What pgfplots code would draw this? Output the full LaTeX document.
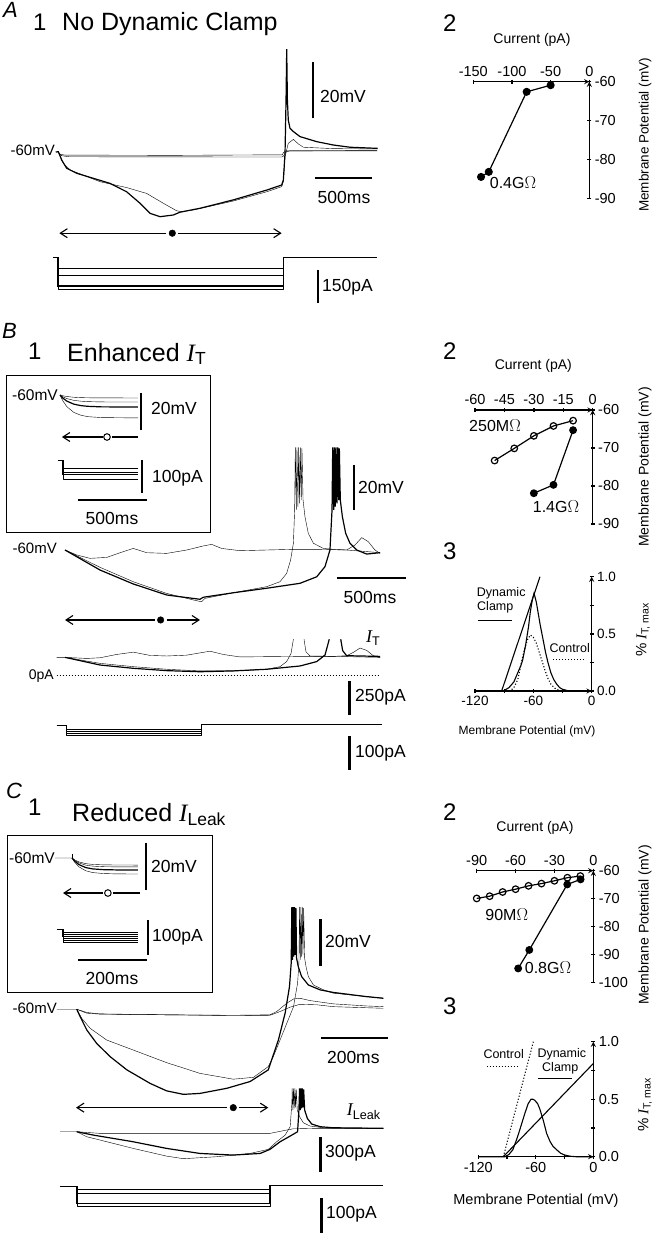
\documentclass[border=0pt]{standalone}
\usepackage{pgfplots}
\pgfplotsset{compat=1.18}
\usepackage{fontspec}
\setmainfont{Liberation Sans}
\newfontfamily\serif{Liberation Serif}
\usetikzlibrary{arrows.meta}
\newcommand{\fs}[1]{\fontsize{#1}{#1}\selectfont}
\newcommand{\tl}{\fontsize{14.5}{14.5}\selectfont}
\newcommand{\tm}{\fontsize{13.5}{13.5}\selectfont}
\newcommand{\IT}{{\serif\itshape I}}
\pgfplotsset{
 trace/.style={hide axis, scale only axis, clip=false, anchor=south west,
   cycle list={{black, mark=none, line width=1.2pt, line join=round}}},
 iv/.style={scale only axis, anchor=south west, clip=false,
   axis line style={-, line width=1.3pt},
   x axis line style={-}, y axis line style={-},
   tick style={line width=1.3pt, black}, major tick length=4pt, minor tick length=4pt,
   tick align=outside,
   cycle list={{black, line width=1.2pt}}},
}
\tikzset{lbl/.style={inner sep=0pt}, barb/.style={line width=1.1pt, -{Straight Barb[length=7pt,width=9pt]}}}
\begin{document}
\begin{tikzpicture}
\useasboundingbox (0pt,0pt) rectangle (667pt,-1239pt);

% ================= A1 voltage
\begin{axis}[trace, at={(35.5pt,-236pt)}, width=348.75pt, height=196pt, xmin=-200, xmax=2900, ymin=-90, ymax=-20]
\addplot coordinates {(-20,-60)(0,-60)(20,-60.8)(60,-61.1)(1000,-61.2)(1995,-61.0)(2003,-60.2)(2030,-59.6)(2836,-59.5)};
\addplot coordinates {(0,-60)(30,-61.3)(100,-61.7)(1990,-61.8)(2003,-61.5)(2025,-60)(2060,-59.6)(2836,-59.6)};
\addplot coordinates {(-20,-60)(3,-59.9)(33,-62.9)(77,-65.8)(166,-67.6)(314,-69.4)(462,-71.2)(610,-74.2)(729,-78.3)(818,-81.9)(907,-83.1)(1025,-82.5)(1084,-81.5)(1262,-80.1)(1559,-77.1)(1855,-73.6)(1988,-71.8)(2003,-70)(2018,-60.5)(2027,-41.4)(2033,-23.3)(2039,-41.4)(2047,-48.6)(2062,-51.5)(2092,-52.7)(2151,-54.5)(2299,-56.3)(2447,-57.5)(2596,-58.3)(2841,-58.7)};
\addplot coordinates {(3,-59.9)(47,-64)(107,-66.4)(373,-70.6)(610,-72.7)(788,-74.8)(936,-78.3)(1055,-81)(1099,-81.3)(1203,-80.7)(1559,-77.5)(1855,-74.2)(1988,-72.4)(2003,-70.6)(2018,-61.7)(2047,-56.9)(2092,-55.5)(2136,-57.1)(2181,-58.3)(2447,-58.8)(2841,-58.9)};
\draw[barb] (axis cs:963,-89) -- (axis cs:12,-89);
\draw[barb] (axis cs:1069,-89) -- (axis cs:1988,-89);
\addplot[only marks, mark=*, mark size=3.3pt] coordinates {(1016,-89)};
\draw[line width=2.6pt] (axis cs:2267,-48) -- (axis cs:2267,-28);
\draw[line width=1.8pt] (axis cs:2284,-69.3) -- (axis cs:2791,-69.3);
\end{axis}
% ================= A1 current
\begin{axis}[trace, at={(35.5pt,-305.4pt)}, width=348.75pt, height=57.2pt, xmin=-200, xmax=2900, ymin=-220, ymax=40]
\addplot coordinates {(-44,0)(0,0)(0,-50)(2003,-50)(2003,0)(2836,0)};
\addplot coordinates {(0,0)(0,-82)(2003,-82)(2003,0)};
\addplot coordinates {(0,0)(0,-132)(2003,-132)(2003,0)};
\addplot coordinates {(0,0)(0,-145)(2003,-145)(2003,0)};
\draw[line width=2.6pt] (axis cs:2311,-59) -- (axis cs:2311,-209);
\end{axis}
% ================= A2
\begin{axis}[iv, at={(473.3pt,-198.3pt)}, width=116pt, height=116.6pt, xmin=-150, xmax=0, ymin=-90, ymax=-60,
  axis x line=top, axis y line=right, xtick={-150,-100,-50,0}, xticklabels={\tl -150,\tl -100,\tl -50,\tl 0},
  ytick={-90,-80,-70,-60}, yticklabels={\tl -90,\tl -80,\tl -70,\tl -60}]
\addplot[mark=*, mark size=3.4pt, line width=1.2pt] coordinates {(-140,-84.5)(-130,-83.2)(-81,-62.6)(-50,-60.9)};
\end{axis}

% ================= B1 inset voltage
\begin{axis}[trace, at={(53.1pt,-441.25pt)}, width=103.5pt, height=83.25pt, xmin=-50, xmax=700, ymin=-85, ymax=-40]
\addplot coordinates {(0,-60)(20,-60.4)(50,-60.82)(100,-61.22)(150,-61.41)(200,-61.5)(300,-61.58)(565,-61.6)};
\addplot coordinates {(0,-60)(20,-60.95)(50,-61.94)(100,-62.89)(150,-63.34)(200,-63.57)(300,-63.75)(565,-63.8)};
\addplot coordinates {(0,-60)(20,-61.63)(50,-63.32)(100,-64.94)(150,-65.72)(200,-66.11)(300,-66.41)(565,-66.5)};
\addplot coordinates {(0,-60)(20,-63.1)(50,-66.32)(100,-69.42)(150,-70.9)(200,-71.7)(300,-72.2)(565,-72.4)};
\draw[barb] (axis cs:311,-82.7) -- (axis cs:14,-82.7);
\draw[line width=1.1pt] (axis cs:377,-82.7) -- (axis cs:565,-82.7);
\addplot[only marks, mark=o, mark size=3.3pt, mark options={fill=white, line width=1pt}] coordinates {(340.6,-82.7)};
\draw[line width=2.4pt] (axis cs:587,-58.9) -- (axis cs:587,-78.9);
\end{axis}
% ================= B1 inset current
\begin{axis}[trace, at={(53.1pt,-499.6pt)}, width=103.5pt, height=46.2pt, xmin=-50, xmax=700, ymin=-120, ymax=20]
\addplot coordinates {(-14.5,0)(22,0)(22,-24)(565,-24)};
\addplot coordinates {(22,0)(22,-36)(565,-36)};
\addplot coordinates {(22,0)(22,-45)(565,-45)};
\addplot coordinates {(22,0)(22,-58)(565,-58)};
\draw[line width=2.4pt] (axis cs:594,0) -- (axis cs:594,-100);
\draw[line width=2.8pt] (axis cs:130,-121.2) -- (axis cs:630,-121.2);
\end{axis}
\draw[line width=1pt] (6pt,-375pt) rectangle (210pt,-532pt);

% ================= B1 voltage
\begin{axis}[trace, at={(51.2pt,-628.75pt)}, width=358.8pt, height=191.25pt, xmin=-100, xmax=2500, ymin=-95, ymax=-10]
\addplot coordinates {(0,-60)(85,-62.2)(181,-63.7)(302,-63.3)(423,-60.7)(495,-59.3)(592,-61.2)(737,-61.5)(882,-60)(1002,-58.2)(1063,-57.5)(1135,-59.3)(1268,-60.3)(1461,-60)(1655,-59.7)(1824,-59.7)(2041,-60)(2186,-60.7)(2283,-61.2)};
\addplot coordinates {(0,-60)(254,-67.7)(495,-74.1)(737,-79.3)(930,-82.2)(990,-83)(1014,-81.5)(1220,-79)(1461,-76.3)(1558,-74.1)(1606,-70.4)(1635,-64.4)(1655,-57)(1664,-42.2)(1669,-14.4)(1676,-42.2)(1681,-14.4)(1688,-40.7)(1693,-14.4)(1700,-39.3)(1705,-14.4)(1712,-37.8)(1717,-14.8)(1725,-37.8)(1739,-45.2)(1763,-52.6)(1800,-57)(1872,-59.3)(1944,-59.7)(2041,-60)(2101,-57.8)(2150,-54.5)(2198,-56.3)(2246,-60)(2283,-61.5)};
\addplot coordinates {(0,-60)(254,-68.9)(495,-75.1)(737,-80)(978,-81.9)(1002,-81)(1220,-79)(1461,-77)(1703,-74.8)(1824,-71.9)(1884,-67.4)(1920,-60)(1935,-42.2)(1940,-14.4)(1947,-42.2)(1952,-14.4)(1959,-40.7)(1964,-14.4)(1971,-39.3)(1976,-14.4)(1983,-37.8)(1988,-14.8)(1995,-37.8)(2010,-45.2)(2034,-52.6)(2065,-57)(2114,-60)(2186,-61.8)(2283,-61.2)};
\draw[barb] (axis cs:650,-91.1) -- (axis cs:0,-91.1);
\draw[barb] (axis cs:736,-91.1) -- (axis cs:978,-91.1);
\addplot[only marks, mark=*, mark size=3.3pt] coordinates {(693,-91.1)};
\draw[line width=2.6pt] (axis cs:2094,-42.2) -- (axis cs:2094,-22.2);
\draw[line width=1.8pt] (axis cs:1971,-72.3) -- (axis cs:2471,-72.3);
\end{axis}
% ================= B1 I_T
\begin{axis}[trace, at={(51.2pt,-716.8pt)}, width=358.8pt, height=82.2pt, xmin=-100, xmax=2500, ymin=-300, ymax=300, unbounded coords=jump]
\addplot coordinates {(-60,134)(0,134)(157,126)(254,131)(374,155)(495,172)(616,148)(737,144)(882,150)(1051,179)(1147,155)(1268,137)(1461,139)(1703,141)(1944,141)(2041,146)(2089,170)(2138,202)(2186,185)(2234,146)(2283,134)};
\addplot coordinates {(0,134)(254,90)(495,66)(737,47)(978,35)(1220,35)(1461,47)(1558,66)(1606,103)(1638,163)(1655,266)(1656,nan)(1732,266)(1746,175)(1775,144)(1944,141)(2283,134)};
\addplot coordinates {(0,134)(254,78)(495,54)(737,37)(978,29)(1220,35)(1461,47)(1703,71)(1824,103)(1884,151)(1915,266)(1916,nan)(1998,266)(2012,183)(2041,146)(2283,141)};
\addplot[dotted, line width=1pt] coordinates {(-60,0)(2283,0)};
\draw[line width=2.6pt] (axis cs:2060,-37) -- (axis cs:2060,-287);
\end{axis}
% ================= B1 command
\begin{axis}[trace, at={(51.2pt,-776pt)}, width=358.8pt, height=68pt, xmin=-100, xmax=2500, ymin=-150, ymax=50]
\addplot coordinates {(-60,0)(10,0)(10,-12.6)(990,-12.6)(990,2)(2295,2)};
\addplot coordinates {(10,0)(10,-17.6)(990,-17.6)(990,2)};
\addplot coordinates {(10,0)(10,-24.4)(990,-24.4)(990,2)};
\addplot coordinates {(10,0)(10,-30.3)(990,-30.3)(990,2)};
\draw[line width=2.6pt] (axis cs:2060,-32) -- (axis cs:2060,-132);
\end{axis}
% ================= B2
\begin{axis}[iv, at={(475pt,-524pt)}, width=117.7pt, height=114pt, xmin=-60, xmax=0, ymin=-90, ymax=-60,
  axis x line=top, axis y line=right, xtick={-60,-45,-30,-15,0}, xticklabels={\tl -60,\tl -45,\tl -30,\tl -15,\tl 0},
  ytick={-90,-80,-70,-60}, yticklabels={\tl -90,\tl -80,\tl -70,\tl -60}]
\addplot[mark=o, mark size=3.3pt, line width=1.2pt, mark options={fill=white}] coordinates {(-50,-73.3)(-40,-70.1)(-30,-66.8)(-20,-64.2)(-10,-62.8)};
\addplot[mark=*, mark size=3.3pt, line width=1.2pt] coordinates {(-30,-81.9)(-20,-79.7)(-10,-65.3)};
\end{axis}
% ================= B3
\begin{axis}[iv, at={(475pt,-691pt)}, width=116.7pt, height=114.3pt, xmin=-120, xmax=0, ymin=0, ymax=1,
  axis x line=bottom, axis y line=right,
  xtick={-120,-60,0}, xticklabels={\tm -120,\tm -60,\tm 0}, minor xtick={-90,-30},
  ytick={0,0.5,1}, yticklabels={\tm 0.0,\tm 0.5,\tm 1.0}, minor ytick={0.25,0.75}]
\addplot[line width=1.1pt] coordinates {(-120,0)(-92,0)(-90,0.005)(-85,0.03)(-80,0.08)(-76,0.16)(-73,0.22)(-71,0.27)(-68,0.4)(-65,0.56)(-63,0.7)(-61,0.8)(-59.3,0.855)(-57,0.78)(-55,0.68)(-53,0.58)(-50,0.45)(-47.5,0.34)(-45,0.25)(-42,0.16)(-39,0.1)(-36,0.06)(-33,0.03)(-30,0.015)(-25,0.004)(-20,0)(0,0)};
\addplot[line width=1.1pt] coordinates {(-92.6,0)(-53.2,1.0)};
\addplot[line width=1.1pt, dotted] coordinates {(-120,0)(-84,0)(-80,0.03)(-76,0.1)(-72,0.26)(-69,0.37)(-66,0.45)(-63,0.49)(-60,0.47)(-57,0.42)(-54,0.34)(-51,0.26)(-48,0.18)(-45,0.11)(-42,0.06)(-38,0.025)(-34,0.008)(-30,0)};
\end{axis}

% ================= C1 inset voltage
\begin{axis}[trace, at={(54.75pt,-905pt)}, width=120.75pt, height=82.25pt, xmin=-50, xmax=300, ymin=-80, ymax=-45]
\addplot coordinates {(-49,-60)(0,-60)(8,-60.81)(20,-61.65)(40,-62.4)(60,-62.73)(90,-62.91)(130,-62.98)(191,-63)};
\addplot coordinates {(0,-60)(8,-61.03)(20,-62.09)(40,-63.04)(60,-63.46)(90,-63.69)(130,-63.78)(191,-63.8)};
\addplot coordinates {(0,-60)(8,-61.38)(20,-62.8)(40,-64.08)(60,-64.64)(90,-64.95)(130,-65.07)(191,-65.1)};
\addplot coordinates {(0,-60)(8,-61.84)(20,-63.74)(40,-65.44)(60,-66.19)(90,-66.6)(130,-66.77)(191,-66.8)};
\addplot coordinates {(0,-60)(0,-58.3)};
\draw[barb] (axis cs:90,-74.9) -- (axis cs:-26,-74.9);
\draw[line width=1.1pt] (axis cs:119,-74.9) -- (axis cs:197,-74.9);
\addplot[only marks, mark=o, mark size=3.3pt, mark options={fill=white, line width=1pt}] coordinates {(104,-74.9)};
\draw[line width=2.4pt] (axis cs:214.5,-53.6) -- (axis cs:214.5,-73.6);
\end{axis}
% ================= C1 inset current
\begin{axis}[trace, at={(54.75pt,-964pt)}, width=120.75pt, height=45.5pt, xmin=-50, xmax=300, ymin=-100, ymax=30]
\addplot coordinates {(-43.5,0)(-26,0)(-26,-8.6)(191,-8.6)};
\addplot coordinates {(-26,0)(-26,-14.3)(191,-14.3)};
\addplot coordinates {(-26,0)(-26,-21.4)(191,-21.4)};
\addplot coordinates {(-26,0)(-26,-27.1)(191,-27.1)};
\addplot coordinates {(-26,0)(-26,-32.9)(191,-32.9)};
\addplot coordinates {(-26,0)(-26,-37.1)(191,-37.1)};
\draw[line width=2.4pt] (axis cs:220,25.7) -- (axis cs:220,-74.3);
\draw[line width=2.8pt] (axis cs:17.4,-88.6) -- (axis cs:217.4,-88.6);
\end{axis}
\draw[line width=1pt] (7pt,-835pt) rectangle (212pt,-992.7pt);

% ================= C1 voltage
\begin{axis}[trace, at={(56.5pt,-1102.5pt)}, width=356.9pt, height=209.9pt, xmin=-60, xmax=1000, ymin=-100, ymax=-10]
\addplot coordinates {(-59,-60)(0,-60)(30,-61.4)(69,-62)(267,-62.4)(465,-62.6)(574,-62.4)(594,-61)(624,-57.4)(644,-55.6)(663,-55.3)(693,-56.3)(762,-57.7)(861,-58.6)(911,-58.9)};
\addplot coordinates {(0,-60)(30,-61.7)(69,-62.1)(465,-62.7)(574,-62.6)(604,-61)(634,-59.1)(663,-57.9)(713,-58.1)(762,-58.9)(911,-59.6)};
\addplot coordinates {(0,-60)(10,-63.1)(30,-68.9)(59,-74.6)(99,-80.3)(149,-86)(218,-91.8)(267,-95)(317,-96.5)(366,-96.1)(446,-93.9)(515,-91)(569,-86)(579,-81.7)(599,-73.2)(619,-61.7)(632,-50.3)(637,-40.3)(639,-16.2)(641,-38.8)(643,-16.2)(645,-37.4)(647,-16.2)(649,-36.7)(651,-16.7)(653,-38.1)(658,-41.7)(668,-46)(688,-49.6)(723,-51.7)(762,-52.8)(861,-54.6)(911,-55.3)};
\addplot coordinates {(0,-60)(15,-63.9)(40,-68.2)(89,-73.2)(168,-77.5)(267,-82.9)(366,-87.5)(465,-90)(525,-89.2)(569,-84.6)(584,-80.3)(604,-73.2)(624,-66)(644,-58.9)(656,-48.8)(660,-40.3)(662,-16.2)(664,-38.8)(666,-16.2)(668,-37.4)(670,-16.2)(672,-36.7)(674,-16.7)(677,-38.1)(681,-41.7)(688,-46)(703,-49.6)(733,-51.7)(762,-53.1)(911,-55.3)};
\draw[barb] (axis cs:447,-102.2) -- (axis cs:-2,-102.2);
\draw[barb] (axis cs:483,-102.2) -- (axis cs:569,-102.2);
\addplot[only marks, mark=*, mark size=3.3pt] coordinates {(465,-102.2)};
\draw[line width=2.6pt] (axis cs:724.7,-41.4) -- (axis cs:724.7,-21.4);
\draw[line width=1.8pt] (axis cs:725.6,-72.4) -- (axis cs:925.6,-72.4);
\end{axis}
% ================= C1 I_Leak
\begin{axis}[trace, at={(56.5pt,-1178.4pt)}, width=356.9pt, height=99.2pt, xmin=-60, xmax=1000, ymin=-400, ymax=450]
\addplot coordinates {(-49.5,0)(0,0)(69,-14)(267,-14)(574,-14)(614,9)(644,26)(663,26)(713,29)(911,29)};
\addplot coordinates {(0,0)(30,-43)(69,-71)(168,-143)(267,-209)(317,-231)(416,-214)(515,-186)(569,-151)(594,-86)(619,-29)(634,43)(639,243)(640,371)(642,186)(644,371)(646,200)(648,371)(650,209)(652,363)(655,186)(662,129)(673,77)(693,49)(733,34)(911,29)};
\addplot coordinates {(0,0)(50,-29)(168,-86)(267,-143)(366,-186)(465,-200)(545,-186)(574,-151)(604,-86)(634,-37)(656,0)(660,186)(662,371)(664,186)(666,371)(668,200)(670,371)(672,209)(674,363)(677,186)(685,114)(698,66)(723,43)(762,34)(911,29)};
\draw[line width=2.6pt] (axis cs:724.7,-43) -- (axis cs:724.7,-343);
\end{axis}
% ================= C1 command
\begin{axis}[trace, at={(56.5pt,-1220.3pt)}, width=356.9pt, height=44.6pt, xmin=-60, xmax=1000, ymin=-100, ymax=30]
\addplot coordinates {(-49.5,0)(0,0)(0,-10)(574,-10)(574,3)(911,3)};
\addplot coordinates {(0,0)(0,-21)(574,-21)(574,3)};
\addplot coordinates {(0,0)(0,-50)(574,-50)(574,3)};
\addplot coordinates {(0,0)(0,-60)(574,-60)(574,3)};
\draw[line width=2.6pt] (axis cs:727.7,-35.9) -- (axis cs:727.7,-136);
\end{axis}
% ================= C2
\begin{axis}[iv, at={(476.7pt,-982.7pt)}, width=116.6pt, height=112pt, xmin=-90, xmax=0, ymin=-100, ymax=-60,
  axis x line=top, axis y line=right, xtick={-90,-60,-30,0}, xticklabels={\tl -90,\tl -60,\tl -30,\tl 0},
  ytick={-100,-90,-80,-70,-60}, yticklabels={\tl -100,\tl -90,\tl -80,\tl -70,\tl -60}]
\addplot[mark=*, mark size=3.3pt, line width=1.2pt] coordinates {(-58,-94.9)(-49.4,-88.3)(-20.1,-64.9)(-9.8,-63.1)};
\addplot[mark=o, mark size=3.3pt, line width=1.2pt, mark options={fill=white}] coordinates {(-90,-69.9)(-80,-69.1)(-70,-67.6)(-60,-66.6)(-50,-65.4)(-40,-64.6)(-30,-63.6)(-20,-62.5)(-10,-61.9)};
\end{axis}
% ================= C3
\begin{axis}[iv, at={(478.3pt,-1156.7pt)}, width=115pt, height=115pt, xmin=-120, xmax=0, ymin=0, ymax=1,
  axis x line=bottom, axis y line=right,
  xtick={-120,-60,0}, xticklabels={\tl -120,\tl -60,\tl 0}, minor xtick={-90,-30},
  ytick={0,0.5,1}, yticklabels={\tl 0.0,\tl 0.5,\tl 1.0}, minor ytick={0.25,0.75}]
\addplot[line width=1.1pt] coordinates {(-120,0)(-92,0)(-88,0.02)(-84,0.06)(-80,0.15)(-78,0.2)(-75,0.28)(-71.3,0.38)(-68,0.46)(-65,0.5)(-63,0.5)(-61,0.49)(-58,0.46)(-55.6,0.41)(-52,0.31)(-48.6,0.2)(-45,0.13)(-42,0.09)(-38.2,0.06)(-34,0.03)(-30,0.015)(-24,0.004)(-18,0)(0,0)};
\addplot[line width=1.1pt] coordinates {(-93.9,0)(0,0.81)};
\addplot[line width=1.1pt, dotted] coordinates {(-93.9,0)(-62.6,1.0)};
\end{axis}

% ================= text
% panel A
\node[lbl, anchor=base west, font=\fs{22}\itshape] at (3pt,-18pt) {A};
\node[lbl, anchor=base west, font=\fs{24}] at (33pt,-31pt) {1};
\node[lbl, anchor=base west, font=\fs{25}] at (62pt,-31pt) {No Dynamic Clamp};
\node[lbl, anchor=base west, font=\fs{24}] at (443pt,-31.7pt) {2};
\node[lbl, anchor=east, font=\fs{15}] at (55pt,-150pt) {-60mV};
\node[lbl, anchor=west, font=\fs{17.5}] at (320pt,-96pt) {20mV};
\node[lbl, font=\fs{17.5}] at (344pt,-197pt) {500ms};
\node[lbl, anchor=west, font=\fs{17.5}] at (322pt,-287pt) {150pA};
\node[lbl, font=\fs{14}] at (532pt,-40pt) {Current (pA)};
\node[lbl, rotate=90, font=\fs{13.5}] at (645pt,-135pt) {Membrane Potential (mV)};
\node[lbl, font=\fs{16}] at (513pt,-183pt) {0.4G\(\Omega\)};
% panel B
\node[lbl, anchor=base west, font=\fs{22}\itshape] at (2pt,-338pt) {B};
\node[lbl, anchor=base west, font=\fs{24}] at (28pt,-359pt) {1};
\node[lbl, anchor=base west, font=\fs{25}] at (67pt,-361pt) {Enhanced \IT\textsubscript{T}};
\node[lbl, anchor=base west, font=\fs{24}] at (443pt,-359pt) {2};
\node[lbl, anchor=base west, font=\fs{24}] at (443pt,-559pt) {3};
\node[lbl, anchor=east, font=\fs{15.5}] at (58pt,-395pt) {-60mV};
\node[lbl, anchor=west, font=\fs{17.5}] at (151pt,-408pt) {20mV};
\node[lbl, anchor=west, font=\fs{17.5}] at (152pt,-478pt) {100pA};
\node[lbl, font=\fs{17.5}] at (112pt,-518pt) {500ms};
\node[lbl, anchor=east, font=\fs{15}] at (57pt,-548pt) {-60mV};
\node[lbl, anchor=west, font=\fs{17.5}] at (358pt,-487pt) {20mV};
\node[lbl, font=\fs{17.5}] at (370pt,-597pt) {500ms};
\node[lbl, anchor=west, font=\fs{18}] at (366pt,-638pt) {\IT\textsubscript{T}};
\node[lbl, anchor=east, font=\fs{14}] at (54pt,-676pt) {0pA};
\node[lbl, anchor=west, font=\fs{17.5}] at (355pt,-697.3pt) {250pA};
\node[lbl, anchor=west, font=\fs{17.5}] at (355pt,-753.3pt) {100pA};
\node[lbl, font=\fs{14}] at (533.3pt,-366pt) {Current (pA)};
\node[lbl, rotate=90, font=\fs{14}] at (645pt,-467pt) {Membrane Potential (mV)};
\node[lbl, font=\fs{16}] at (495pt,-426pt) {250M\(\Omega\)};
\node[lbl, font=\fs{16}] at (556pt,-507pt) {1.4G\(\Omega\)};
\node[lbl, font=\fs{12}] at (527pt,-731pt) {Membrane Potential (mV)};
\node[lbl, rotate=90, font=\fs{15}] at (643pt,-630pt) {\% \IT\textsubscript{T, max}};
\node[lbl, anchor=west, font=\fs{12.5}] at (476.7pt,-593.3pt) {Dynamic};
\node[lbl, anchor=west, font=\fs{12.5}] at (477pt,-607pt) {Clamp};
\draw[line width=1pt] (478pt,-620pt) -- (512pt,-620pt);
\node[lbl, anchor=west, font=\fs{12.5}] at (549.3pt,-648.3pt) {Control};
\draw[line width=1pt, dotted] (553pt,-659pt) -- (585pt,-659pt);
% panel C
\node[lbl, anchor=base west, font=\fs{22}\itshape] at (6pt,-798pt) {C};
\node[lbl, anchor=base west, font=\fs{24}] at (28pt,-815pt) {1};
\node[lbl, anchor=base west, font=\fs{25}] at (72pt,-821pt) {Reduced \IT\textsubscript{Leak}};
\node[lbl, anchor=base west, font=\fs{24}] at (443pt,-820pt) {2};
\node[lbl, anchor=base west, font=\fs{24}] at (443pt,-1014pt) {3};
\node[lbl, anchor=east, font=\fs{15.5}] at (55pt,-858.3pt) {-60mV};
\node[lbl, anchor=west, font=\fs{17.5}] at (151pt,-866.7pt) {20mV};
\node[lbl, anchor=west, font=\fs{17.5}] at (152pt,-936.7pt) {100pA};
\node[lbl, font=\fs{17.5}] at (112pt,-978pt) {200ms};
\node[lbl, anchor=east, font=\fs{15}] at (57pt,-1008.3pt) {-60mV};
\node[lbl, anchor=west, font=\fs{17.5}] at (325pt,-941.7pt) {20mV};
\node[lbl, font=\fs{17.5}] at (353.3pt,-1057.7pt) {200ms};
\node[lbl, anchor=west, font=\fs{18}] at (346.7pt,-1111.7pt) {\IT\textsubscript{Leak}};
\node[lbl, anchor=west, font=\fs{17.5}] at (325pt,-1153.3pt) {300pA};
\node[lbl, anchor=west, font=\fs{17.5}] at (326pt,-1214.3pt) {100pA};
\node[lbl, font=\fs{14}] at (535pt,-828.3pt) {Current (pA)};
\node[lbl, rotate=90, font=\fs{14}] at (645pt,-925pt) {Membrane Potential (mV)};
\node[lbl, font=\fs{16}] at (506.7pt,-915pt) {90M\(\Omega\)};
\node[lbl, font=\fs{16}] at (548pt,-968pt) {0.8G\(\Omega\)};
\node[lbl, font=\fs{14.5}] at (536pt,-1200.7pt) {Membrane Potential (mV)};
\node[lbl, rotate=90, font=\fs{15}] at (645pt,-1105pt) {\% \IT\textsubscript{T, max}};
\node[lbl, anchor=west, font=\fs{12.5}] at (483.3pt,-1054.3pt) {Control};
\draw[line width=1pt, dotted] (486.7pt,-1066.7pt) -- (518.3pt,-1066.7pt);
\node[lbl, anchor=west, font=\fs{12.5}] at (537.3pt,-1054pt) {Dynamic};
\node[lbl, anchor=west, font=\fs{12.5}] at (542pt,-1068.3pt) {Clamp};
\draw[line width=1pt] (538pt,-1078.3pt) -- (572pt,-1078.3pt);
\end{tikzpicture}
\end{document}
